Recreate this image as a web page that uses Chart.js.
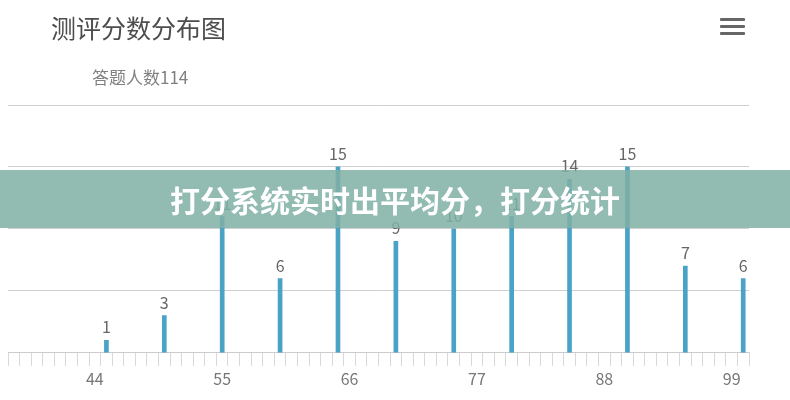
<!DOCTYPE html>
<html>
<head>
<meta charset="utf-8">
<script src="https://cdn.jsdelivr.net/npm/chart.js@4.4.1/dist/chart.umd.min.js"></script>
<style>
    body { margin: 0; background: #fff; }
    #wrap { position: relative; width: 790px; height: 400px; overflow: hidden; }
    #chart { position: absolute; left: 0; top: 0; }
    .title { position: absolute; left: 51px; top: 9px; font: 25px "Noto Sans CJK SC", sans-serif; color: #4d4d4d; }
    .subtitle { position: absolute; left: 92px; top: 64px; font: 17px "Noto Sans CJK SC", sans-serif; color: #808080; }
    .menu { position: absolute; left: 720px; top: 18px; width: 25px; }
    .menu div { height: 3px; background: #666; border-radius: 1px; margin-bottom: 4px; }
    .banner {
        position: absolute; left: 0; top: 170px; width: 790px; height: 58px;
        background: rgba(128, 176, 165, 0.86);
        color: #fff; font: bold 30px "Noto Sans CJK SC", sans-serif;
        text-align: center; line-height: 58px;
    }
</style>
</head>
<body>
<div id="wrap">
    <canvas id="chart" width="790" height="400"></canvas>
    <div class="title">测评分数分布图</div>
    <div class="subtitle">答题人数114</div>
    <div class="menu"><div></div><div></div><div></div></div>
    <div class="banner">打分系统实时出平均分，打分统计</div>
</div>
<script>
// x axis scores shown on the chart
const categories = [37, 38, 39, 40, 41, 42, 43, 44, 45, 46, 47, 48, 49, 50, 51, 52,
    53, 54, 55, 56, 57, 58, 59, 60, 61, 62, 63, 64, 65, 66, 67, 68, 69, 70, 71, 72,
    73, 74, 75, 76, 77, 78, 79, 80, 81, 82, 83, 84, 85, 86, 87, 88, 89, 90, 91, 92,
    93, 94, 95, 96, 97, 98, 99, 100];
const tickLabels = [44, 55, 66, 77, 88, 99];

// scores that got answers and how many people
const scores = [45, 50, 55, 60, 65, 70, 75, 80, 85, 90, 95, 100];
const counts = [1, 3, 11, 6, 15, 9, 10, 11, 14, 15, 7, 6];

const yTicks = [0, 5, 10, 15, 20];

const barData = categories.map(c => {
    const i = scores.indexOf(c);
    return i > -1 ? counts[i] : null;
});

const valueLabels = {
    id: "valueLabels",
    afterDatasetsDraw(chart) {
        const ctx = chart.ctx;
        const meta = chart.getDatasetMeta(0);
        ctx.save();
        ctx.font = '16px "Noto Sans CJK SC", sans-serif';
        ctx.fillStyle = "#666";
        ctx.textAlign = "center";
        ctx.textBaseline = "bottom";
        meta.data.forEach((bar, i) => {
            const v = barData[i];
            if (v === null) return;
            ctx.fillText(String(v), bar.x, bar.y - 5);
        });
        ctx.restore();
    }
};

new Chart(document.getElementById("chart").getContext("2d"), {
    type: "bar",
    data: {
        labels: categories,
        datasets: [{
            data: barData,
            backgroundColor: "#4aa2c6",
            barThickness: 4,
            skipNull: true
        }]
    },
    options: {
        responsive: false,
        animation: false,
        layout: { padding: { top: 105, left: 8, right: 41, bottom: 7 } },
        plugins: { legend: { display: false }, tooltip: { enabled: false } },
        scales: {
            x: {
                grid: {
                    drawOnChartArea: false,
                    drawTicks: true,
                    tickLength: 13,
                    tickColor: "#d8d8d8",
                    offset: true
                },
                border: { color: "#cccccc" },
                ticks: {
                    autoSkip: false,
                    maxRotation: 0,
                    padding: 4,
                    color: "#777",
                    font: { size: 16, family: "'Noto Sans CJK SC', sans-serif" },
                    callback: function (value, index) {
                        const c = categories[index];
                        return tickLabels.includes(c) ? String(c) : "";
                    }
                }
            },
            y: {
                min: yTicks[0],
                max: yTicks[yTicks.length - 1],
                afterBuildTicks: axis => { axis.ticks = yTicks.map(v => ({ value: v })); },
                grid: { color: "#d0d0d0", drawTicks: false },
                border: { display: false },
                ticks: { display: false }
            }
        }
    },
    plugins: [valueLabels]
});
</script>
</body>
</html>
